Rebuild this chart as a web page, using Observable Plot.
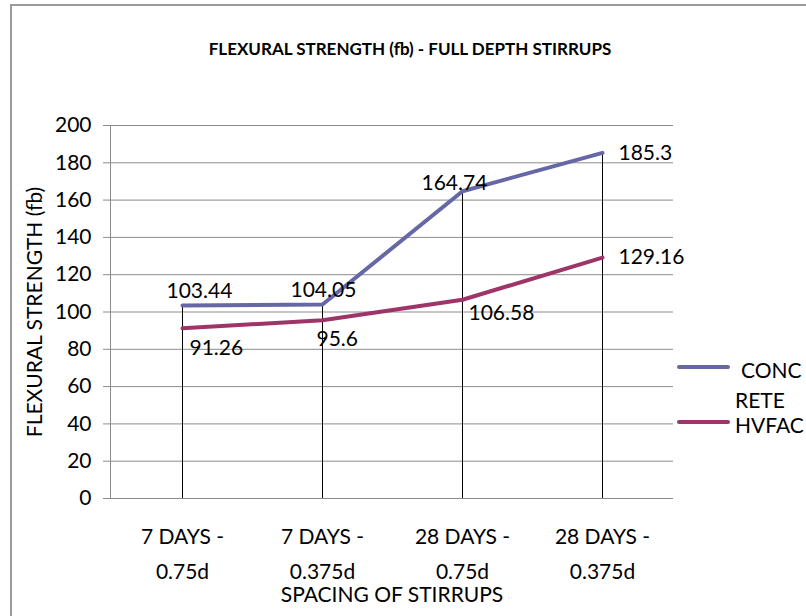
<!DOCTYPE html>
<html>
<head>
<meta charset="utf-8">
<script src="https://cdn.jsdelivr.net/npm/d3@7"></script>
<script src="https://cdn.jsdelivr.net/npm/@observablehq/plot@0.6"></script>
<style>
  html, body { margin: 0; padding: 0; background: #fff; overflow: hidden; }
  #wrap { position: relative; width: 806px; height: 616px; font-family: Lato, "Open Sans", sans-serif; }
  #border { position: absolute; left: 10px; top: 4px; width: 840px; height: 660px; border: 2px solid #9a9a9a; box-sizing: border-box; }
  #chart { position: absolute; left: 0; top: 0; }
  .leg { position: absolute; font-size: 21px; color: #000; line-height: 1; }
  .legline { position: absolute; height: 4px; border-radius: 2px; }
</style>
</head>
<body>
<div id="wrap">
  <div id="border"></div>
  <div id="chart"></div>
  <div class="legline" id="l1" style="left:677px; top:365px; width:53px;"></div>
  <div class="leg" style="left:741px; top:359px;">CONC</div>
  <div class="leg" style="left:735px; top:389px;">RETE</div>
  <div class="legline" id="l2" style="left:677px; top:420px; width:53px;"></div>
  <div class="leg" style="left:735px; top:414px;">HVFAC</div>
</div>
<script>
const categories = ["7 DAYS - 0.75d", "7 DAYS - 0.375d", "28 DAYS - 0.75d", "28 DAYS - 0.375d"];
const catLine1 = ["7 DAYS -", "7 DAYS -", "28 DAYS -", "28 DAYS -"];
const catLine2 = ["0.75d", "0.375d", "0.75d", "0.375d"];
const concrete = [103.44, 104.05, 164.74, 185.3];
const hvfac = [91.26, 95.6, 106.58, 129.16];
const seriesNames = ["CONCRETE", "HVFAC"];
const seriesColors = ["#6767a6", "#9e3467"];
const yTicks = [0, 20, 40, 60, 80, 100, 120, 140, 160, 180, 200];
const titleText = "FLEXURAL STRENGTH (fb) - FULL DEPTH STIRRUPS";
const yTitle = "FLEXURAL STRENGTH (fb)";
const xTitle = "SPACING OF STIRRUPS";

document.getElementById("l1").style.background = seriesColors[0];
document.getElementById("l2").style.background = seriesColors[1];

const rows = categories.map((c, i) => ({cat: c, l1: catLine1[i], l2: catLine2[i], conc: concrete[i], hvfac: hvfac[i]}));

// label offsets (styling, relative to each point)
const concOff = [[-16, -14], [-32, -14], [-41, -8], [16, 0]];
const hvOff = [[7, 20], [-6, 19], [6, 14], [16, 0]];

const labelMarks = [];
rows.forEach((r, i) => {
  labelMarks.push(Plot.text([r], {x: "cat", y: "conc", text: d => String(d.conc), textAnchor: "start", dx: concOff[i][0], dy: concOff[i][1], fill: "#000"}));
  labelMarks.push(Plot.text([r], {x: "cat", y: "hvfac", text: d => String(d.hvfac), textAnchor: "start", dx: hvOff[i][0], dy: hvOff[i][1], fill: "#000"}));
});

const chart = Plot.plot({
  width: 806,
  height: 616,
  marginLeft: 110,
  marginRight: 133,
  marginTop: 125,
  marginBottom: 118,
  style: {fontFamily: "Lato, 'Open Sans', sans-serif", fontSize: "21px", color: "#000", background: "transparent"},
  x: {type: "point", domain: categories, padding: 0.5, axis: null},
  y: {domain: [0, 200], axis: null},
  marks: [
    Plot.ruleY(yTicks, {stroke: "#8c8c8c", strokeWidth: 1}),
    Plot.axisY({ticks: yTicks, tickSize: 7, tickPadding: 12, stroke: "#8c8c8c", fill: "#000", label: null, fontSize: 21}),
    Plot.frame({anchor: "left", stroke: "#8c8c8c"}),
    Plot.ruleX(rows, {x: "cat", y1: 0, y2: d => Math.max(d.conc, d.hvfac), stroke: "#000", strokeWidth: 1}),
    Plot.line(rows, {x: "cat", y: "conc", stroke: seriesColors[0], strokeWidth: 4, strokeLinecap: "round"}),
    Plot.line(rows, {x: "cat", y: "hvfac", stroke: seriesColors[1], strokeWidth: 4, strokeLinecap: "round"}),
    ...labelMarks,
    Plot.text(rows, {x: "cat", text: "l1", frameAnchor: "bottom", dy: 45, fill: "#000"}),
    Plot.text(rows, {x: "cat", text: "l2", frameAnchor: "bottom", dy: 80, fill: "#000"}),
    Plot.text([xTitle], {text: d => d, frameAnchor: "bottom", dy: 103, fill: "#000"}),
    Plot.text([yTitle], {text: d => d, frameAnchor: "left", textAnchor: "middle", rotate: -90, dx: -75, fill: "#000"}),
    Plot.text([titleText], {text: d => d, frameAnchor: "top", dy: -83, dx: 18, fontWeight: "bold", fontSize: 17, fill: "#000"})
  ]
});
document.getElementById("chart").appendChild(chart);
</script>
</body>
</html>
